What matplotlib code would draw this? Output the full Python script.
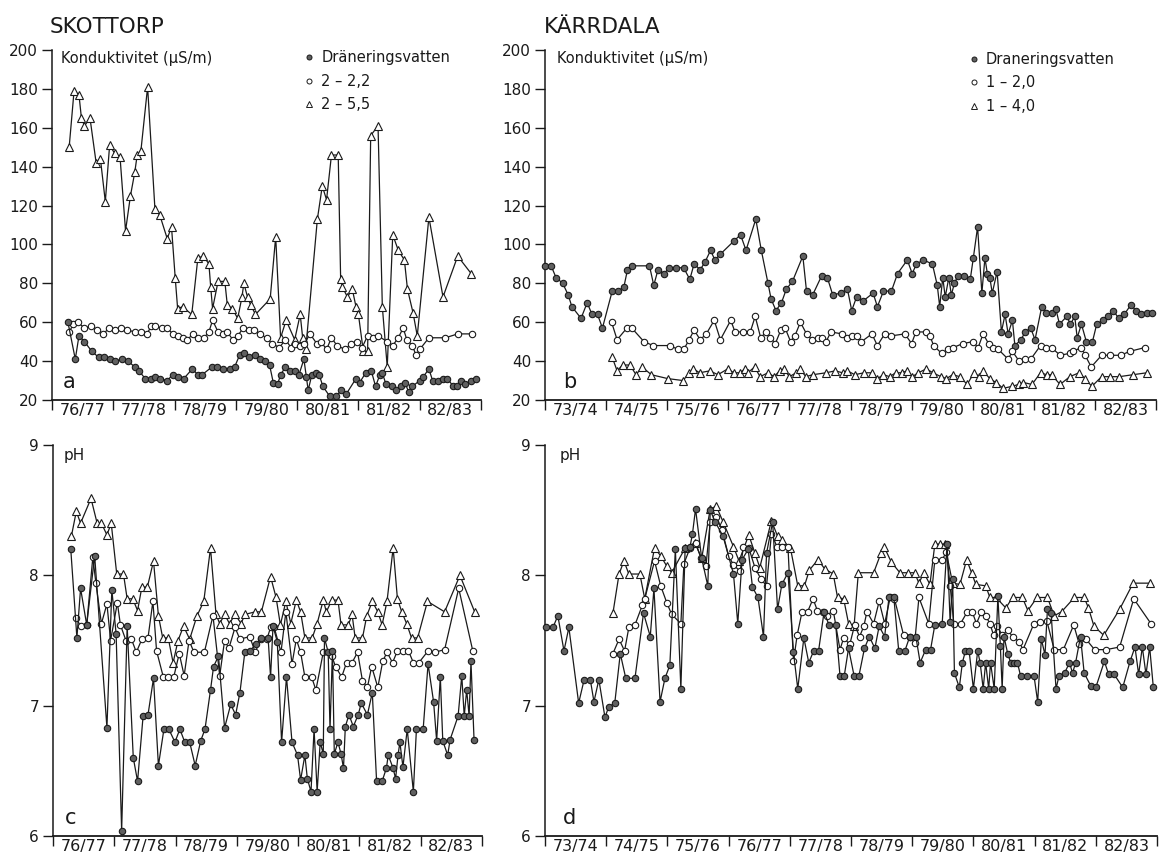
import matplotlib
matplotlib.use("Agg")
import matplotlib.pyplot as plt
from matplotlib.lines import Line2D

plt.rcParams['font.family'] = ['DejaVu Sans']

# ---------------- data (decimal year, value) ----------------
# Skottorp, conductivity (uS/m)
a_drain_x = [1976.26, 1976.38, 1976.44, 1976.53, 1976.65, 1976.76, 1976.85, 1976.94, 1977.03, 1977.15,
             1977.24, 1977.35, 1977.42, 1977.52, 1977.61, 1977.68, 1977.76, 1977.88, 1977.97, 1978.05,
             1978.15, 1978.29, 1978.38, 1978.45, 1978.61, 1978.70, 1978.79, 1978.90, 1978.98, 1979.06,
             1979.13, 1979.21, 1979.32, 1979.39, 1979.47, 1979.55, 1979.61, 1979.68, 1979.73, 1979.81,
             1979.89, 1979.97, 1980.03, 1980.11, 1980.15, 1980.18, 1980.24, 1980.30, 1980.36, 1980.42,
             1980.53, 1980.64, 1980.72, 1980.80, 1980.96, 1981.02, 1981.12, 1981.21, 1981.28, 1981.35,
             1981.39, 1981.45, 1981.55, 1981.62, 1981.70, 1981.76, 1981.82, 1981.88, 1982.00, 1982.06,
             1982.15, 1982.21, 1982.30, 1982.38, 1982.45, 1982.55, 1982.61, 1982.67, 1982.74, 1982.84,
             1982.92]
a_drain = [60, 41, 53, 50, 45, 42, 42, 41, 40, 41,
           40, 37, 35, 31, 31, 32, 31, 30, 33, 32,
           31, 36, 33, 33, 37, 37, 36, 36, 37, 43,
           44, 42, 43, 41, 40, 38, 29, 28, 33, 37,
           35, 35, 33, 41, 32, 25, 33, 34, 33, 27,
           22, 22, 25, 23, 31, 29, 34, 35, 27, 33,
           34, 28, 27, 25, 27, 29, 24, 27, 30, 32,
           36, 30, 30, 31, 31, 27, 27, 30, 28, 30,
           31]
a_mid_x = [1976.28, 1976.35, 1976.42, 1976.53, 1976.64, 1976.74, 1976.84, 1976.93, 1977.03, 1977.12,
           1977.23, 1977.35, 1977.45, 1977.55, 1977.62, 1977.68, 1977.79, 1977.88, 1977.97, 1978.05,
           1978.13, 1978.21, 1978.30, 1978.39, 1978.48, 1978.56, 1978.62, 1978.71, 1978.79, 1978.86,
           1978.95, 1979.03, 1979.12, 1979.21, 1979.30, 1979.39, 1979.50, 1979.59, 1979.71, 1979.81,
           1979.90, 1979.97, 1980.05, 1980.12, 1980.21, 1980.32, 1980.39, 1980.48, 1980.56, 1980.65,
           1980.78, 1980.88, 1980.97, 1981.06, 1981.15, 1981.23, 1981.32, 1981.47, 1981.56, 1981.65,
           1981.73, 1981.79, 1981.88, 1981.94, 1982.00, 1982.15, 1982.42, 1982.62, 1982.85]
a_mid = [55, 59, 60, 57, 58, 56, 54, 57, 56, 57,
         56, 55, 55, 54, 58, 58, 57, 57, 54, 53,
         52, 51, 54, 52, 52, 55, 61, 55, 54, 55,
         51, 53, 57, 56, 56, 54, 52, 49, 47, 51,
         47, 49, 48, 49, 54, 49, 50, 46, 52, 48,
         46, 49, 50, 47, 53, 52, 53, 50, 48, 52,
         57, 51, 48, 43, 46, 52, 52, 54, 54]
a_deep_x = [1976.28, 1976.36, 1976.44, 1976.48, 1976.53, 1976.62, 1976.72, 1976.79, 1976.87, 1976.94,
            1977.02, 1977.11, 1977.20, 1977.28, 1977.35, 1977.39, 1977.45, 1977.56, 1977.68, 1977.76,
            1977.88, 1977.95, 1978.01, 1978.05, 1978.13, 1978.28, 1978.38, 1978.47, 1978.56, 1978.59,
            1978.62, 1978.71, 1978.82, 1978.86, 1978.94, 1979.03, 1979.10, 1979.13, 1979.19, 1979.24,
            1979.32, 1979.56, 1979.65, 1979.73, 1979.82, 1979.96, 1980.05, 1980.09, 1980.14, 1980.33,
            1980.41, 1980.48, 1980.56, 1980.67, 1980.71, 1980.74, 1980.82, 1980.90, 1980.96, 1981.00,
            1981.08, 1981.15, 1981.20, 1981.32, 1981.39, 1981.47, 1981.56, 1981.65, 1981.75, 1981.80,
            1981.89, 1981.96, 1982.15, 1982.38, 1982.62, 1982.84]
a_deep = [150, 179, 177, 165, 161, 165, 142, 144, 122, 151,
          147, 145, 107, 125, 137, 146, 148, 181, 118, 115,
          103, 109, 83, 67, 68, 64, 93, 94, 90, 78,
          67, 81, 81, 69, 67, 62, 73, 80, 73, 69,
          64, 72, 104, 52, 61, 51, 64, 52, 46, 113,
          130, 123, 146, 146, 82, 78, 73, 77, 68, 64,
          45, 45, 156, 161, 68, 37, 105, 97, 92, 77,
          65, 53, 114, 73, 94, 85]

# Karrdala, conductivity (uS/m)
b_drain_x = [1973.00, 1973.10, 1973.18, 1973.29, 1973.38, 1973.44, 1973.59, 1973.69, 1973.77, 1973.86,
             1973.94, 1974.10, 1974.19, 1974.29, 1974.35, 1974.42, 1974.71, 1974.78, 1974.85, 1974.95,
             1975.03, 1975.15, 1975.27, 1975.37, 1975.44, 1975.54, 1975.62, 1975.71, 1975.78, 1975.87,
             1976.10, 1976.20, 1976.29, 1976.45, 1976.54, 1976.65, 1976.70, 1976.78, 1976.87, 1976.95,
             1977.05, 1977.22, 1977.28, 1977.38, 1977.53, 1977.62, 1977.71, 1977.84, 1977.95, 1978.02,
             1978.10, 1978.21, 1978.37, 1978.44, 1978.54, 1978.67, 1978.77, 1978.93, 1979.01, 1979.08,
             1979.19, 1979.34, 1979.42, 1979.46, 1979.51, 1979.55, 1979.61, 1979.65, 1979.70, 1979.76,
             1979.86, 1979.96, 1980.01, 1980.08, 1980.15, 1980.20, 1980.24, 1980.28, 1980.32, 1980.40,
             1980.47, 1980.53, 1980.58, 1980.65, 1980.69, 1980.79, 1980.86, 1980.95, 1981.02, 1981.13,
             1981.20, 1981.29, 1981.36, 1981.42, 1981.54, 1981.60, 1981.67, 1981.71, 1981.78, 1981.86,
             1981.96, 1982.03, 1982.13, 1982.21, 1982.30, 1982.39, 1982.48, 1982.59, 1982.67, 1982.76,
             1982.85, 1982.94]
b_drain = [89, 89, 83, 80, 74, 68, 62, 70, 64, 64,
           57, 76, 76, 78, 87, 89, 89, 79, 87, 85,
           88, 88, 88, 82, 90, 87, 91, 97, 92, 95,
           102, 105, 97, 113, 97, 80, 72, 66, 70, 77,
           81, 94, 76, 74, 84, 83, 74, 75, 77, 66,
           73, 71, 75, 68, 76, 76, 85, 92, 85, 90,
           92, 90, 79, 68, 83, 73, 83, 74, 80, 84,
           84, 82, 93, 109, 75, 93, 85, 83, 75, 86,
           55, 64, 54, 61, 48, 51, 55, 57, 51, 68,
           65, 65, 67, 59, 63, 59, 63, 52, 59, 50,
           50, 59, 61, 63, 66, 62, 64, 69, 66, 64,
           65, 65]
b_mid_x = [1974.09, 1974.18, 1974.34, 1974.42, 1974.62, 1974.77, 1975.04, 1975.18, 1975.27, 1975.36,
           1975.44, 1975.54, 1975.64, 1975.77, 1975.87, 1976.04, 1976.11, 1976.24, 1976.36, 1976.44,
           1976.53, 1976.62, 1976.69, 1976.77, 1976.86, 1976.93, 1977.02, 1977.09, 1977.18, 1977.28,
           1977.37, 1977.46, 1977.53, 1977.60, 1977.68, 1977.86, 1977.94, 1978.02, 1978.10, 1978.18,
           1978.35, 1978.44, 1978.56, 1978.67, 1978.89, 1979.00, 1979.07, 1979.24, 1979.30, 1979.36,
           1979.49, 1979.60, 1979.68, 1979.84, 1980.00, 1980.09, 1980.17, 1980.26, 1980.34, 1980.42,
           1980.58, 1980.65, 1980.76, 1980.86, 1980.95, 1981.11, 1981.20, 1981.29, 1981.43, 1981.59,
           1981.64, 1981.78, 1981.84, 1981.94, 1982.11, 1982.25, 1982.42, 1982.57, 1982.82]
b_mid = [60, 51, 57, 57, 50, 48, 48, 46, 46, 51,
         56, 51, 54, 61, 51, 61, 55, 55, 55, 63,
         52, 55, 52, 49, 56, 57, 50, 53, 60, 54,
         51, 52, 52, 50, 55, 54, 52, 53, 53, 50,
         54, 48, 54, 53, 54, 49, 55, 55, 53, 48,
         44, 46, 47, 49, 50, 47, 54, 49, 47, 46,
         41, 45, 40, 41, 41, 48, 47, 47, 43, 44,
         45, 47, 43, 37, 43, 43, 43, 45, 47]
b_deep_x = [1974.10, 1974.18, 1974.27, 1974.39, 1974.49, 1974.59, 1974.74, 1975.01, 1975.26, 1975.36,
            1975.43, 1975.53, 1975.70, 1975.83, 1975.99, 1976.09, 1976.19, 1976.27, 1976.32, 1976.43,
            1976.52, 1976.65, 1976.75, 1976.84, 1976.91, 1977.00, 1977.11, 1977.17, 1977.27, 1977.38,
            1977.60, 1977.75, 1977.87, 1977.95, 1978.07, 1978.22, 1978.35, 1978.44, 1978.54, 1978.64,
            1978.74, 1978.84, 1978.93, 1979.01, 1979.11, 1979.24, 1979.35, 1979.48, 1979.57, 1979.67,
            1979.79, 1979.91, 1980.02, 1980.11, 1980.17, 1980.28, 1980.38, 1980.50, 1980.64, 1980.75,
            1980.83, 1980.97, 1981.11, 1981.21, 1981.29, 1981.43, 1981.59, 1981.74, 1981.84, 1981.95,
            1982.11, 1982.25, 1982.40, 1982.62, 1982.85]
b_deep = [42, 35, 38, 38, 33, 37, 33, 31, 30, 34,
          36, 34, 35, 33, 36, 34, 34, 36, 34, 37,
          32, 34, 32, 35, 36, 32, 34, 36, 32, 33,
          34, 35, 34, 35, 33, 34, 34, 31, 33, 32,
          34, 34, 35, 32, 34, 36, 34, 32, 31, 33,
          32, 28, 34, 32, 35, 31, 29, 26, 27, 28,
          29, 28, 34, 33, 33, 28, 32, 34, 31, 27,
          32, 32, 32, 33, 34]

# Skottorp, pH
c_drain_x = [1976.29, 1976.39, 1976.45, 1976.55, 1976.68, 1976.88, 1976.96, 1977.03, 1977.12, 1977.21,
             1977.31, 1977.38, 1977.47, 1977.55, 1977.64, 1977.72, 1977.81, 1977.89, 1977.99, 1978.07,
             1978.15, 1978.23, 1978.32, 1978.41, 1978.48, 1978.57, 1978.62, 1978.70, 1978.80, 1978.90,
             1978.98, 1979.05, 1979.13, 1979.21, 1979.31, 1979.40, 1979.51, 1979.55, 1979.59, 1979.66,
             1979.73, 1979.81, 1979.90, 1979.99, 1980.04, 1980.11, 1980.15, 1980.21, 1980.26, 1980.31,
             1980.36, 1980.41, 1980.43, 1980.49, 1980.52, 1980.56, 1980.59, 1980.65, 1980.70, 1980.74,
             1980.77, 1980.83, 1980.90, 1980.98, 1981.03, 1981.13, 1981.21, 1981.28, 1981.37, 1981.44,
             1981.47, 1981.55, 1981.59, 1981.63, 1981.66, 1981.71, 1981.78, 1981.88, 1981.93, 1982.04,
             1982.12, 1982.21, 1982.26, 1982.32, 1982.36, 1982.44, 1982.48, 1982.61, 1982.67, 1982.71,
             1982.75, 1982.79, 1982.82, 1982.87]
c_drain = [8.20, 7.52, 7.90, 7.62, 8.15, 6.83, 7.89, 7.55, 6.04, 7.61,
           6.60, 6.42, 6.92, 6.93, 7.21, 6.54, 6.82, 6.82, 6.72, 6.82,
           6.72, 6.72, 6.54, 6.73, 6.82, 7.12, 7.30, 7.38, 6.83, 7.01,
           6.93, 7.10, 7.41, 7.42, 7.47, 7.52, 7.52, 7.22, 7.61, 7.49,
           6.72, 7.22, 6.72, 6.62, 6.43, 6.62, 6.44, 6.34, 6.82, 6.34,
           6.72, 6.63, 7.52, 7.41, 6.82, 7.42, 6.63, 6.72, 6.63, 6.52,
           6.84, 6.93, 6.84, 6.93, 7.02, 6.93, 7.10, 6.42, 6.42, 6.52,
           6.62, 6.52, 6.44, 6.62, 6.72, 6.53, 6.82, 6.34, 6.82, 6.82,
           7.32, 7.03, 6.73, 7.22, 6.73, 6.62, 6.74, 6.92, 7.23, 6.92,
           7.12, 6.92, 7.34, 6.74]
c_mid_x = [1976.38, 1976.45, 1976.55, 1976.65, 1976.70, 1976.79, 1976.88, 1976.94, 1977.05, 1977.10,
           1977.19, 1977.28, 1977.36, 1977.45, 1977.55, 1977.63, 1977.69, 1977.80, 1977.88, 1977.97,
           1978.06, 1978.14, 1978.22, 1978.30, 1978.47, 1978.61, 1978.72, 1978.80, 1978.87, 1978.97,
           1979.05, 1979.21, 1979.30, 1979.39, 1979.49, 1979.55, 1979.61, 1979.72, 1979.80, 1979.90,
           1979.97, 1980.04, 1980.11, 1980.22, 1980.29, 1980.41, 1980.55, 1980.61, 1980.71, 1980.79,
           1980.88, 1980.97, 1981.05, 1981.13, 1981.20, 1981.30, 1981.38, 1981.45, 1981.54, 1981.62,
           1981.71, 1981.80, 1981.88, 1981.97, 1982.12, 1982.23, 1982.39, 1982.62, 1982.85]
c_mid = [7.67, 7.61, 7.62, 8.14, 7.94, 7.63, 7.78, 7.50, 7.79, 7.62,
         7.50, 7.51, 7.41, 7.51, 7.52, 7.80, 7.42, 7.22, 7.22, 7.22,
         7.40, 7.23, 7.50, 7.41, 7.41, 7.69, 7.23, 7.50, 7.44, 7.60,
         7.51, 7.53, 7.41, 7.51, 7.51, 7.60, 7.60, 7.41, 7.72, 7.32,
         7.51, 7.41, 7.22, 7.22, 7.12, 7.41, 7.38, 7.30, 7.22, 7.33,
         7.33, 7.41, 7.19, 7.14, 7.30, 7.14, 7.34, 7.41, 7.33, 7.42,
         7.42, 7.42, 7.33, 7.33, 7.42, 7.41, 7.43, 7.90, 7.42]
c_deep_x = [1976.30, 1976.38, 1976.45, 1976.62, 1976.72, 1976.79, 1976.88, 1976.95, 1977.04, 1977.15,
            1977.21, 1977.30, 1977.38, 1977.45, 1977.54, 1977.64, 1977.72, 1977.79, 1977.88, 1977.96,
            1978.04, 1978.13, 1978.23, 1978.35, 1978.46, 1978.57, 1978.66, 1978.72, 1978.80, 1978.88,
            1978.97, 1979.07, 1979.13, 1979.30, 1979.40, 1979.55, 1979.64, 1979.71, 1979.80, 1979.88,
            1979.97, 1980.04, 1980.11, 1980.23, 1980.31, 1980.41, 1980.46, 1980.55, 1980.65, 1980.70,
            1980.82, 1980.88, 1980.93, 1981.05, 1981.12, 1981.21, 1981.30, 1981.37, 1981.45, 1981.55,
            1981.62, 1981.69, 1981.77, 1981.85, 1981.95, 1982.11, 1982.39, 1982.64, 1982.88]
c_deep = [8.30, 8.49, 8.40, 8.59, 8.40, 8.40, 8.31, 8.40, 8.01, 8.01,
          7.82, 7.82, 7.73, 7.91, 7.91, 8.11, 7.69, 7.52, 7.52, 7.33,
          7.50, 7.61, 7.51, 7.69, 7.80, 8.21, 7.70, 7.63, 7.70, 7.63,
          7.70, 7.63, 7.70, 7.72, 7.72, 7.99, 7.83, 7.62, 7.80, 7.63,
          7.81, 7.72, 7.52, 7.52, 7.63, 7.81, 7.72, 7.81, 7.81, 7.62,
          7.62, 7.70, 7.52, 7.52, 7.69, 7.80, 7.72, 7.62, 7.80, 8.21,
          7.82, 7.72, 7.63, 7.52, 7.52, 7.80, 7.72, 8.00, 7.72]

# Karrdala, pH
d_drain_x = [1973.02, 1973.13, 1973.21, 1973.31, 1973.39, 1973.55, 1973.64, 1973.74, 1973.80, 1973.88,
             1973.98, 1974.04, 1974.14, 1974.23, 1974.32, 1974.47, 1974.61, 1974.72, 1974.78, 1974.88,
             1974.96, 1975.04, 1975.13, 1975.22, 1975.29, 1975.37, 1975.41, 1975.46, 1975.56, 1975.66,
             1975.70, 1975.78, 1975.91, 1976.08, 1976.15, 1976.22, 1976.32, 1976.39, 1976.48, 1976.57,
             1976.62, 1976.72, 1976.80, 1976.87, 1976.97, 1977.06, 1977.13, 1977.23, 1977.31, 1977.39,
             1977.47, 1977.56, 1977.64, 1977.75, 1977.82, 1977.89, 1977.96, 1978.05, 1978.13, 1978.22,
             1978.30, 1978.39, 1978.46, 1978.55, 1978.62, 1978.70, 1978.78, 1978.88, 1978.96, 1979.06,
             1979.13, 1979.22, 1979.30, 1979.37, 1979.49, 1979.57, 1979.62, 1979.66, 1979.69, 1979.77,
             1979.82, 1979.87, 1979.93, 1980.00, 1980.07, 1980.11, 1980.16, 1980.20, 1980.25, 1980.28,
             1980.34, 1980.40, 1980.44, 1980.47, 1980.50, 1980.56, 1980.61, 1980.66, 1980.72, 1980.77,
             1980.88, 1980.99, 1981.05, 1981.11, 1981.17, 1981.21, 1981.27, 1981.35, 1981.40, 1981.49,
             1981.57, 1981.62, 1981.67, 1981.75, 1981.81, 1981.92, 1982.00, 1982.14, 1982.21, 1982.30,
             1982.44, 1982.56, 1982.64, 1982.70, 1982.76, 1982.82, 1982.88, 1982.94]
d_drain = [7.60, 7.60, 7.69, 7.42, 7.60, 7.02, 7.20, 7.20, 7.03, 7.20,
           6.91, 6.99, 7.02, 7.40, 7.21, 7.21, 7.71, 7.53, 7.90, 7.03,
           7.21, 7.31, 8.20, 7.13, 8.21, 8.22, 8.32, 8.51, 8.13, 7.92,
           8.50, 8.41, 8.30, 8.01, 7.63, 8.12, 8.20, 7.91, 7.83, 7.53,
           8.17, 8.41, 7.74, 7.93, 8.02, 7.41, 7.13, 7.52, 7.33, 7.42,
           7.42, 7.72, 7.62, 7.62, 7.23, 7.23, 7.44, 7.23, 7.23, 7.44,
           7.53, 7.44, 7.61, 7.53, 7.83, 7.83, 7.42, 7.42, 7.53, 7.53,
           7.33, 7.43, 7.43, 7.62, 7.63, 8.24, 7.64, 7.97, 7.25, 7.14,
           7.33, 7.42, 7.42, 7.13, 7.42, 7.33, 7.13, 7.33, 7.13, 7.33,
           7.13, 7.84, 7.46, 7.13, 7.53, 7.40, 7.33, 7.33, 7.33, 7.23,
           7.23, 7.23, 7.03, 7.51, 7.39, 7.74, 7.71, 7.13, 7.23, 7.25,
           7.33, 7.25, 7.33, 7.53, 7.25, 7.15, 7.14, 7.34, 7.24, 7.24,
           7.14, 7.34, 7.45, 7.24, 7.45, 7.24, 7.45, 7.14]
d_mid_x = [1974.11, 1974.21, 1974.30, 1974.37, 1974.47, 1974.59, 1974.63, 1974.79, 1974.89, 1974.99,
           1975.07, 1975.22, 1975.27, 1975.37, 1975.46, 1975.55, 1975.63, 1975.70, 1975.80, 1975.89,
           1976.00, 1976.08, 1976.19, 1976.24, 1976.33, 1976.43, 1976.53, 1976.62, 1976.70, 1976.79,
           1976.87, 1976.97, 1977.06, 1977.12, 1977.20, 1977.29, 1977.38, 1977.45, 1977.54, 1977.60,
           1977.71, 1977.82, 1977.88, 1977.98, 1978.06, 1978.14, 1978.21, 1978.26, 1978.37, 1978.46,
           1978.55, 1978.64, 1978.71, 1978.86, 1978.96, 1979.04, 1979.11, 1979.27, 1979.37, 1979.49,
           1979.56, 1979.62, 1979.68, 1979.79, 1979.90, 1979.98, 1980.05, 1980.13, 1980.20, 1980.27,
           1980.33, 1980.39, 1980.47, 1980.56, 1980.64, 1980.75, 1980.81, 1980.99, 1981.09, 1981.20,
           1981.32, 1981.47, 1981.64, 1981.73, 1981.84, 1981.98, 1982.17, 1982.39, 1982.62, 1982.90]
d_mid = [7.40, 7.51, 7.42, 7.60, 7.62, 7.77, 7.82, 8.11, 7.92, 7.79,
         7.70, 7.63, 8.09, 8.21, 8.25, 8.13, 8.07, 8.41, 8.45, 8.35,
         8.15, 8.08, 8.03, 8.22, 8.21, 8.06, 7.97, 7.92, 8.32, 8.22,
         8.22, 8.22, 7.34, 7.54, 7.72, 7.72, 7.82, 7.73, 7.72, 7.69,
         7.73, 7.43, 7.52, 7.47, 7.62, 7.53, 7.61, 7.72, 7.63, 7.80,
         7.63, 7.83, 7.82, 7.54, 7.53, 7.48, 7.83, 7.63, 8.12, 8.12,
         8.18, 7.92, 7.63, 7.63, 7.72, 7.72, 7.63, 7.72, 7.69, 7.63,
         7.54, 7.61, 7.54, 7.58, 7.53, 7.49, 7.43, 7.63, 7.64, 7.65,
         7.43, 7.43, 7.62, 7.47, 7.51, 7.43, 7.43, 7.45, 7.82, 7.63]
d_deep_x = [1974.11, 1974.21, 1974.29, 1974.37, 1974.55, 1974.63, 1974.79, 1974.89, 1974.99, 1975.07,
            1975.29, 1975.45, 1975.56, 1975.70, 1975.80, 1975.91, 1976.08, 1976.17, 1976.33, 1976.43,
            1976.51, 1976.70, 1976.80, 1976.87, 1977.01, 1977.13, 1977.24, 1977.32, 1977.46, 1977.57,
            1977.71, 1977.78, 1977.88, 1977.96, 1978.05, 1978.12, 1978.37, 1978.49, 1978.54, 1978.66,
            1978.80, 1978.93, 1979.04, 1979.11, 1979.19, 1979.29, 1979.37, 1979.46, 1979.53, 1979.66,
            1979.78, 1979.89, 1979.97, 1980.04, 1980.20, 1980.27, 1980.37, 1980.53, 1980.64, 1980.80,
            1980.89, 1981.04, 1981.21, 1981.32, 1981.44, 1981.65, 1981.81, 1981.88, 1981.97, 1982.13,
            1982.39, 1982.61, 1982.88]
d_deep = [7.71, 8.01, 8.11, 8.01, 8.01, 7.82, 8.21, 8.15, 8.07, 8.02,
          8.21, 8.25, 8.13, 8.51, 8.53, 8.41, 8.22, 8.11, 8.31, 8.17,
          8.06, 8.42, 8.30, 8.27, 8.21, 7.92, 7.92, 8.04, 8.12, 8.05,
          8.01, 7.83, 7.82, 7.63, 7.61, 8.02, 8.02, 8.17, 8.22, 8.10,
          8.02, 8.02, 8.02, 7.94, 8.02, 7.93, 8.24, 8.24, 8.24, 7.94,
          7.93, 8.12, 8.02, 7.93, 7.92, 7.83, 7.83, 7.75, 7.83, 7.83,
          7.73, 7.83, 7.83, 7.69, 7.72, 7.83, 7.83, 7.75, 7.61, 7.54,
          7.74, 7.94, 7.94]

skottorp_years = ['76/77', '77/78', '78/79', '79/80', '80/81', '81/82', '82/83']
karrdala_years = ['73/74', '74/75', '75/76', '76/77', '77/78', '78/79', '79/80',
                  '80/81', '81/82', '82/83']

# ---------------- drawing ----------------
W, H = 1161, 858
fig = plt.figure(figsize=(W / 100, H / 100), dpi=100)

ax_a = fig.add_axes([52 / W, 1 - 400 / H, 429 / W, 350 / H])
ax_b = fig.add_axes([545 / W, 1 - 400 / H, 611 / W, 350 / H])
ax_c = fig.add_axes([53 / W, 1 - 836 / H, 429 / W, 391 / H])
ax_d = fig.add_axes([545 / W, 1 - 836 / H, 612 / W, 391 / H])

INK = '#1a1a1a'
line_kw = dict(color=INK, lw=0.9)
drain_kw = dict(marker='o', ms=4.6, mfc='#606060', mec=INK, mew=0.8, **line_kw)
mid_kw = dict(marker='o', ms=4.6, mfc='white', mec=INK, mew=0.8, **line_kw)
deep_kw = dict(marker='^', ms=5.2, mfc='white', mec=INK, mew=0.8, **line_kw)


def style(ax, x0, x1, labels, ylim, yticks):
    ax.set_xlim(x0, x1)
    ax.set_ylim(*ylim)
    for s in ('top', 'right'):
        ax.spines[s].set_visible(False)
    ax.spines['left'].set_linewidth(1.1)
    ax.spines['bottom'].set_linewidth(1.3)
    ax.spines['left'].set_color(INK)
    ax.spines['bottom'].set_color(INK)
    ax.set_yticks(yticks)
    ax.tick_params(axis='y', direction='out', length=7, width=1, labelsize=11,
                   pad=3, colors=INK)
    n = len(labels)
    ax.set_xticks([x1 - n + i for i in range(n + 1)])
    ax.set_xticklabels([])
    ax.set_xticks([x1 - n + i + 0.5 for i in range(n)], minor=True)
    ax.set_xticklabels(labels, minor=True)
    ax.tick_params(axis='x', which='major', direction='out', length=7, width=1, colors=INK)
    ax.tick_params(axis='x', which='minor', length=0, labelsize=11.5, pad=2, colors=INK)


def series(ax, x, y, kw):
    ax.plot(x, y, clip_on=False, zorder=3, **kw)


series(ax_a, a_deep_x, a_deep, deep_kw)
series(ax_a, a_mid_x, a_mid, mid_kw)
series(ax_a, a_drain_x, a_drain, drain_kw)
series(ax_b, b_drain_x, b_drain, drain_kw)
series(ax_b, b_mid_x, b_mid, mid_kw)
series(ax_b, b_deep_x, b_deep, deep_kw)
series(ax_c, c_deep_x, c_deep, deep_kw)
series(ax_c, c_mid_x, c_mid, mid_kw)
series(ax_c, c_drain_x, c_drain, drain_kw)
series(ax_d, d_deep_x, d_deep, deep_kw)
series(ax_d, d_mid_x, d_mid, mid_kw)
series(ax_d, d_drain_x, d_drain, drain_kw)

cond_ticks = list(range(20, 201, 20))
style(ax_a, 1976, 1983, skottorp_years, (20, 200), cond_ticks)
style(ax_b, 1973, 1983, karrdala_years, (20, 200), cond_ticks)
style(ax_c, 1976, 1983, skottorp_years, (6, 9), [6, 7, 8, 9])
style(ax_d, 1973, 1983, karrdala_years, (6, 9), [6, 7, 8, 9])

for ax in (ax_a, ax_b):
    ax.text(0.02, 0.975, 'Konduktivitet (µS/m)', transform=ax.transAxes,
            fontsize=10.5, color=INK, va='center', ha='left')
for ax in (ax_c, ax_d):
    ax.text(0.024, 0.972, 'pH', transform=ax.transAxes,
            fontsize=11, color=INK, va='center', ha='left')

for ax, letter, yy in ((ax_a, 'a', 0.05), (ax_b, 'b', 0.05), (ax_c, 'c', 0.045), (ax_d, 'd', 0.045)):
    ax.text(0.04, yy, letter, transform=ax.transAxes, fontsize=15, color=INK,
            ha='center', va='center')


def legend(ax, names, anchor):
    handles = [
        Line2D([], [], ls='none', marker='o', ms=3.6, mfc='#606060', mec=INK, mew=0.7),
        Line2D([], [], ls='none', marker='o', ms=3.6, mfc='white', mec=INK, mew=0.7),
        Line2D([], [], ls='none', marker='^', ms=3.8, mfc='white', mec=INK, mew=0.7),
    ]
    leg = ax.legend(handles, names, loc='upper left', bbox_to_anchor=anchor,
                    frameon=False, fontsize=10.5, handlelength=0.6, handletextpad=0.5,
                    labelspacing=0.6, borderpad=0, borderaxespad=0)
    for t in leg.get_texts():
        t.set_color(INK)


legend(ax_a, ['Dräneringsvatten', '2 – 2,2', '2 – 5,5'], (0.59, 1.0))
legend(ax_b, ['Draneringsvatten', '1 – 2,0', '1 – 4,0'], (0.695, 0.995))

fig.text(50 / W, 1 - 27 / H, 'SKOTTORP', fontsize=15.5, color=INK, ha='left', va='center')
fig.text(544 / W, 1 - 27 / H, 'KÄRRDALA', fontsize=15.5, color=INK, ha='left', va='center')

fig.savefig('out.png', dpi=100, facecolor='white')
